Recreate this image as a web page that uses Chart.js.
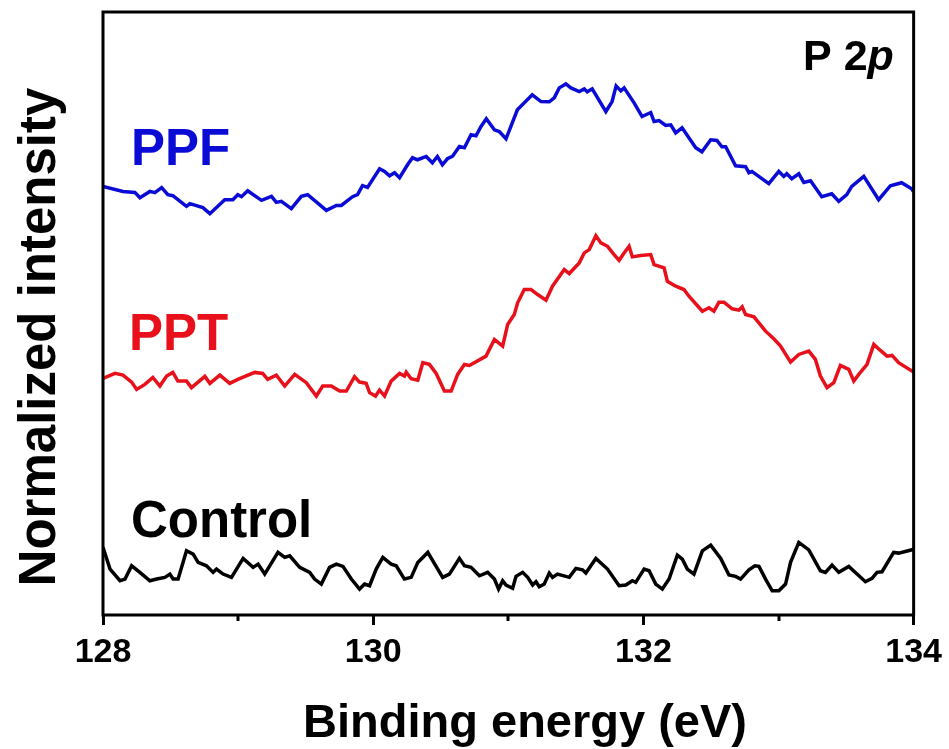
<!DOCTYPE html>
<html>
<head>
<meta charset="utf-8">
<title>P 2p</title>
<script src="https://cdn.jsdelivr.net/npm/chart.js@4/dist/chart.umd.min.js"></script>
<style>
    html, body { margin: 0; padding: 0; background: #fff; }
    #wrap { width: 949px; height: 749px; }
</style>
</head>
<body>
<div id="wrap"><canvas id="xpsChart" width="949" height="749"></canvas></div>
<script>
// binding energy (eV) and normalized intensity (offset, arbitrary units)
const ppfX = [128.000, 128.148, 128.236, 128.273, 128.347, 128.384, 128.434, 128.480, 128.517, 128.618,
    128.643, 128.739, 128.791, 128.901, 128.961, 128.998, 129.025, 129.071, 129.173, 129.247,
    129.283, 129.320, 129.394, 129.468, 129.515, 129.653, 129.727, 129.764, 129.847, 129.884,
    129.921, 129.958, 130.047, 130.084, 130.121, 130.158, 130.195, 130.254, 130.291, 130.328,
    130.392, 130.438, 130.475, 130.512, 130.549, 130.586, 130.638, 130.675, 130.724, 130.761,
    130.798, 130.837, 130.897, 130.933, 130.983, 131.067, 131.177, 131.242, 131.303, 131.340,
    131.377, 131.426, 131.463, 131.525, 131.562, 131.584, 131.621, 131.722, 131.768, 131.798,
    131.833, 131.857, 131.931, 131.990, 132.054, 132.079, 132.116, 132.165, 132.202, 132.239,
    132.286, 132.387, 132.433, 132.498, 132.544, 132.581, 132.609, 132.682, 132.756, 132.781,
    132.803, 132.928, 133.002, 133.039, 133.061, 133.098, 133.150, 133.187, 133.237, 133.320,
    133.394, 133.446, 133.505, 133.542, 133.631, 133.741, 133.828, 133.911, 133.985, 134.000];
const ppfY = [4.293, 4.243, 4.233, 4.180, 4.243, 4.230, 4.280, 4.210, 4.200, 4.093,
    4.120, 4.080, 4.020, 4.160, 4.160, 4.210, 4.190, 4.250, 4.153, 4.193,
    4.133, 4.143, 4.070, 4.193, 4.210, 4.053, 4.103, 4.103, 4.190, 4.210,
    4.300, 4.283, 4.470, 4.443, 4.400, 4.430, 4.380, 4.510, 4.580, 4.560,
    4.593, 4.530, 4.593, 4.510, 4.570, 4.593, 4.693, 4.680, 4.810, 4.800,
    4.893, 4.970, 4.860, 4.843, 4.770, 5.060, 5.210, 5.143, 5.140, 5.180,
    5.280, 5.320, 5.280, 5.243, 5.270, 5.240, 5.270, 5.043, 5.143, 5.300,
    5.250, 5.280, 5.130, 4.993, 5.033, 4.943, 4.953, 4.903, 4.910, 4.830,
    4.880, 4.680, 4.640, 4.760, 4.753, 4.690, 4.690, 4.500, 4.490, 4.430,
    4.443, 4.320, 4.443, 4.393, 4.420, 4.370, 4.420, 4.333, 4.350, 4.190,
    4.220, 4.143, 4.210, 4.293, 4.393, 4.160, 4.300, 4.330, 4.270, 4.240];

const pptX = [128.000, 128.089, 128.148, 128.212, 128.249, 128.310, 128.369, 128.421, 128.471, 128.517,
    128.554, 128.618, 128.655, 128.754, 128.791, 128.865, 128.938, 128.998, 129.123, 129.182,
    129.219, 129.283, 129.345, 129.419, 129.505, 129.579, 129.626, 129.690, 129.751, 129.801,
    129.862, 129.899, 129.948, 129.973, 130.017, 130.047, 130.084, 130.133, 130.195, 130.231,
    130.244, 130.281, 130.330, 130.367, 130.416, 130.466, 130.527, 130.577, 130.625, 130.675,
    130.712, 130.835, 130.897, 130.958, 130.995, 131.044, 131.069, 131.118, 131.168, 131.217,
    131.279, 131.327, 131.414, 131.451, 131.525, 131.562, 131.599, 131.648, 131.685, 131.734,
    131.783, 131.820, 131.857, 131.894, 131.918, 131.980, 132.054, 132.079, 132.153, 132.177,
    132.239, 132.300, 132.337, 132.436, 132.485, 132.522, 132.559, 132.596, 132.657, 132.707,
    132.731, 132.756, 132.818, 132.904, 132.965, 133.015, 133.089, 133.150, 133.224, 133.273,
    133.310, 133.359, 133.409, 133.458, 133.520, 133.557, 133.594, 133.655, 133.705, 133.754,
    133.803, 133.840, 133.889, 134.000];
const pptY = [2.370, 2.420, 2.403, 2.333, 2.260, 2.310, 2.380, 2.293, 2.393, 2.430,
    2.343, 2.343, 2.277, 2.390, 2.320, 2.403, 2.320, 2.360, 2.430, 2.420,
    2.360, 2.403, 2.293, 2.410, 2.327, 2.193, 2.293, 2.293, 2.243, 2.243,
    2.387, 2.333, 2.320, 2.227, 2.193, 2.253, 2.193, 2.343, 2.420, 2.393,
    2.433, 2.367, 2.353, 2.527, 2.510, 2.420, 2.243, 2.243, 2.410, 2.510,
    2.500, 2.593, 2.760, 2.693, 2.910, 3.010, 3.127, 3.260, 3.260, 3.210,
    3.153, 3.293, 3.460, 3.420, 3.527, 3.627, 3.660, 3.800, 3.727, 3.693,
    3.610, 3.553, 3.627, 3.693, 3.587, 3.600, 3.610, 3.510, 3.477, 3.343,
    3.293, 3.260, 3.193, 3.043, 3.077, 3.043, 3.133, 3.133, 3.067, 3.053,
    3.087, 3.010, 2.987, 2.843, 2.767, 2.693, 2.533, 2.610, 2.643, 2.560,
    2.393, 2.277, 2.327, 2.500, 2.460, 2.343, 2.410, 2.510, 2.710, 2.650,
    2.593, 2.600, 2.527, 2.433];

const ctrlX = [128.000, 128.052, 128.126, 128.163, 128.212, 128.273, 128.347, 128.397, 128.458, 128.495,
    128.519, 128.556, 128.618, 128.667, 128.704, 128.766, 128.815, 128.840, 128.889, 128.951,
    129.037, 129.111, 129.148, 129.197, 129.295, 129.345, 129.382, 129.456, 129.530, 129.566,
    129.616, 129.677, 129.727, 129.776, 129.838, 129.899, 129.936, 129.973, 130.022, 130.071,
    130.133, 130.170, 130.231, 130.281, 130.330, 130.404, 130.514, 130.564, 130.638, 130.675,
    130.724, 130.786, 130.847, 130.897, 130.928, 130.958, 130.983, 131.032, 131.057, 131.106,
    131.143, 131.180, 131.205, 131.229, 131.266, 131.303, 131.327, 131.364, 131.451, 131.500,
    131.549, 131.574, 131.648, 131.734, 131.820, 131.870, 131.918, 131.943, 132.005, 132.042,
    132.091, 132.140, 132.190, 132.251, 132.288, 132.325, 132.374, 132.436, 132.498, 132.572,
    132.633, 132.682, 132.719, 132.781, 132.825, 132.855, 132.904, 132.953, 133.002, 133.052,
    133.089, 133.150, 133.224, 133.310, 133.347, 133.396, 133.446, 133.520, 133.581, 133.643,
    133.692, 133.729, 133.766, 133.852, 133.889, 133.988, 134.000];
const ctrlY = [0.677, 0.460, 0.343, 0.360, 0.493, 0.427, 0.343, 0.360, 0.377, 0.410,
    0.360, 0.360, 0.643, 0.610, 0.527, 0.493, 0.427, 0.460, 0.410, 0.377,
    0.567, 0.477, 0.510, 0.410, 0.627, 0.577, 0.593, 0.477, 0.427, 0.360,
    0.310, 0.477, 0.510, 0.487, 0.360, 0.260, 0.310, 0.293, 0.460, 0.577,
    0.510, 0.493, 0.360, 0.377, 0.527, 0.627, 0.377, 0.410, 0.567, 0.493,
    0.477, 0.393, 0.427, 0.360, 0.260, 0.343, 0.300, 0.267, 0.387, 0.427,
    0.377, 0.300, 0.333, 0.283, 0.310, 0.420, 0.377, 0.410, 0.377, 0.467,
    0.453, 0.420, 0.567, 0.460, 0.293, 0.300, 0.343, 0.327, 0.460, 0.443,
    0.310, 0.260, 0.360, 0.600, 0.560, 0.460, 0.410, 0.643, 0.700, 0.567,
    0.400, 0.387, 0.360, 0.453, 0.493, 0.487, 0.360, 0.243, 0.243, 0.310,
    0.527, 0.727, 0.653, 0.443, 0.427, 0.500, 0.427, 0.487, 0.410, 0.333,
    0.367, 0.427, 0.433, 0.627, 0.620, 0.653, 0.660];

const majorTicks = [128, 130, 132, 134];
const minorTicks = [129, 131, 133];

const FONT = '"Liberation Sans", Arial, Helvetica, sans-serif';
const BLUE = '#0b0bd6';
const RED = '#e8101a';

function toPoints(xs, ys) {
    return xs.map((x, i) => ({ x: x, y: ys[i] }));
}

// box, minor ticks, axis titles and curve labels
const decorPlugin = {
    id: 'decor',
    afterDraw(chart) {
        const ctx = chart.ctx;
        const area = chart.chartArea;
        const xScale = chart.scales.x;

        ctx.save();
        ctx.strokeStyle = '#000';
        ctx.lineWidth = 3;
        ctx.strokeRect(area.left, area.top, area.right - area.left, area.bottom - area.top);

        // minor ticks
        ctx.beginPath();
        minorTicks.forEach(v => {
            const px = Math.round(xScale.getPixelForValue(v));
            ctx.moveTo(px, area.bottom);
            ctx.lineTo(px, area.bottom + 6);
        });
        ctx.stroke();

        ctx.fillStyle = '#000';
        ctx.textBaseline = 'alphabetic';

        // x title
        ctx.font = 'bold 47px ' + FONT;
        ctx.textAlign = 'center';
        ctx.fillText('Binding energy (eV)', 525, 737);

        // y title
        ctx.save();
        ctx.font = 'bold 51px ' + FONT;
        ctx.translate(55, 337);
        ctx.rotate(-Math.PI / 2);
        ctx.fillText('Normalized intensity', 0, 0);
        ctx.restore();

        // curve labels
        ctx.textAlign = 'left';
        ctx.font = 'bold 51px ' + FONT;
        ctx.fillStyle = BLUE;
        ctx.fillText('PPF', 131, 165);
        ctx.fillStyle = RED;
        ctx.fillText('PPT', 129, 350);
        ctx.fillStyle = '#000';
        ctx.fillText('Control', 131, 537);

        // P 2p
        ctx.font = 'bold 43px ' + FONT;
        const head = 'P 2';
        ctx.fillText(head, 803, 70);
        const w = ctx.measureText(head).width;
        ctx.font = 'italic bold 43px ' + FONT;
        ctx.fillText('p', 803 + w, 70);

        ctx.restore();
    }
};

const ctx = document.getElementById('xpsChart').getContext('2d');

const lineStyle = {
    borderWidth: 3.5,
    pointRadius: 0,
    tension: 0,
    fill: false
};

new Chart(ctx, {
    type: 'line',
    data: {
        datasets: [
            Object.assign({ label: 'PPF', data: toPoints(ppfX, ppfY), borderColor: BLUE }, lineStyle),
            Object.assign({ label: 'PPT', data: toPoints(pptX, pptY), borderColor: RED }, lineStyle),
            Object.assign({ label: 'Control', data: toPoints(ctrlX, ctrlY), borderColor: '#000' }, lineStyle)
        ]
    },
    options: {
        responsive: false,
        animation: false,
        events: [],
        layout: {
            padding: { left: 103, right: 35, top: 12, bottom: 0 }
        },
        plugins: {
            legend: { display: false },
            tooltip: { enabled: false }
        },
        scales: {
            x: {
                type: 'linear',
                min: 128,
                max: 134,
                afterBuildTicks: scale => {
                    scale.ticks = majorTicks.map(v => ({ value: v }));
                },
                afterFit: scale => {
                    scale.height = 134;
                },
                border: { display: false },
                grid: {
                    drawOnChartArea: false,
                    drawTicks: true,
                    tickLength: 10,
                    tickWidth: 3,
                    tickColor: '#000'
                },
                ticks: {
                    color: '#000',
                    padding: 7,
                    maxRotation: 0,
                    font: { family: FONT, size: 34, weight: 'bold' }
                }
            },
            y: {
                display: false,
                min: 0,
                max: 6.04
            }
        }
    },
    plugins: [decorPlugin]
});
</script>
</body>
</html>
